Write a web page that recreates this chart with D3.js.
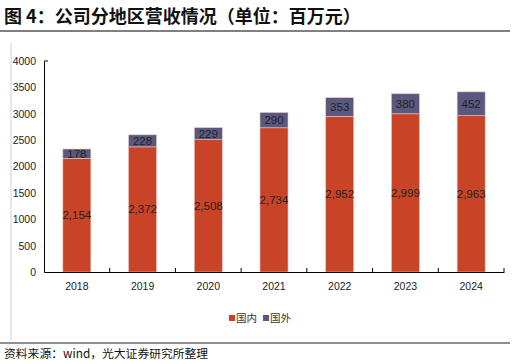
<!DOCTYPE html>
<html>
<head>
<meta charset="utf-8">
<script src="https://cdn.jsdelivr.net/npm/d3@7"></script>
<style>
  body { margin: 0; background: #fff; }
  svg text { font-family: "Liberation Sans", Arial, "Noto Sans CJK SC", sans-serif; }
</style>
</head>
<body>
<div id="chart"></div>
<script>
// data
var years = ["2018", "2019", "2020", "2021", "2022", "2023", "2024"];
var domestic = [2154, 2372, 2508, 2734, 2952, 2999, 2963];
var overseas = [178, 228, 229, 290, 353, 380, 452];
var yTicks = [0, 500, 1000, 1500, 2000, 2500, 3000, 3500, 4000];
var keys = ["国内", "国外"];

var W = 516, H = 364;
var margin = {top: 61, left: 44, right: 12, bottom: 92};

var svg = d3.select("#chart").append("svg")
    .attr("width", W)
    .attr("height", H);

// title + rules
svg.append("text")
    .attr("x", 4).attr("y", 23)
    .attr("font-size", 18).attr("font-weight", "bold")
    .attr("fill", "#111")
    .style("font-family", "'Noto Sans CJK SC', sans-serif")
    .text("图 4：公司分地区营收情况（单位：百万元）");
svg.append("line").attr("x1", 0).attr("x2", 510).attr("y1", 31).attr("y2", 31)
    .attr("stroke", "#000").attr("stroke-width", 1);
svg.append("line").attr("x1", 11).attr("x2", 11).attr("y1", 43).attr("y2", 340)
    .attr("stroke", "#d0d0d0").attr("stroke-width", 1);
svg.append("line").attr("x1", 0).attr("x2", 510).attr("y1", 343).attr("y2", 343)
    .attr("stroke", "#222").attr("stroke-width", 1.2);
svg.append("text")
    .attr("x", 4).attr("y", 358)
    .attr("font-size", 11.8).attr("fill", "#111")
    .style("font-family", "'Noto Sans CJK SC', sans-serif")
    .text("资料来源：wind，光大证券研究所整理");

var rows = years.map(function (y, i) {
    return {year: y, "国内": domestic[i], "国外": overseas[i]};
});
var stacked = d3.stack().keys(keys)(rows);

var x = d3.scaleBand()
    .domain(years)
    .range([margin.left, W - margin.right])
    .paddingInner(0.574)
    .paddingOuter(0.287);

var y = d3.scaleLinear()
    .domain([0, 4000])
    .range([H - margin.bottom, margin.top]);

var color = d3.scaleOrdinal()
    .domain(keys)
    .range(["#c94427", "#5a587e"]);

var g = svg.append("g");

g.selectAll(".series")
    .data(stacked)
    .enter().append("g")
    .attr("fill", function (d) { return color(d.key); })
    .selectAll("rect")
    .data(function (d) { return d; })
    .enter().append("rect")
    .attr("x", function (d) { return x(d.data.year); })
    .attr("width", x.bandwidth())
    .attr("y", function (d) { return y(d[1]); })
    .attr("height", function (d) { return y(d[0]) - y(d[1]); })
    .attr("stroke", "#e8c8c0")
    .attr("stroke-width", 0.6);

// value labels
var fmt = d3.format(",");
stacked.forEach(function (s) {
    g.selectAll(null)
        .data(s)
        .enter().append("text")
        .attr("x", function (d) { return x(d.data.year) + x.bandwidth() / 2; })
        .attr("y", function (d) { return (y(d[0]) + y(d[1])) / 2 + 4; })
        .attr("text-anchor", "middle")
        .attr("font-size", 11.5)
        .attr("fill", "#222")
        .text(function (d) { return fmt(d[1] - d[0]); });
});

// y axis
var yAxis = svg.append("g")
    .attr("transform", "translate(" + margin.left + ",0)")
    .call(d3.axisLeft(y).tickValues(yTicks).tickFormat(d3.format("d"))
        .tickSize(0).tickSizeOuter(0).tickPadding(8));
yAxis.select(".domain").attr("stroke", "#000");
yAxis.selectAll("text").attr("font-size", 10.5).attr("fill", "#222");
svg.append("line")
    .attr("x1", margin.left).attr("x2", margin.left + 4)
    .attr("y1", y(4000)).attr("y2", y(4000))
    .attr("stroke", "#000");

// x axis
var xAxis = svg.append("g")
    .attr("transform", "translate(0," + y(0) + ")")
    .call(d3.axisBottom(x).tickSize(0).tickPadding(11));
xAxis.select(".domain").attr("stroke", "#000");
xAxis.selectAll("text").attr("font-size", 10.5).attr("fill", "#222");
// ticks between categories
var step = x.step();
xAxis.selectAll(".sep")
    .data(years)
    .enter().append("line")
    .attr("x1", function (d) { return x(d) + x.bandwidth() + (step - x.bandwidth()) / 2; })
    .attr("x2", function (d) { return x(d) + x.bandwidth() + (step - x.bandwidth()) / 2; })
    .attr("y1", 0).attr("y2", -4)
    .attr("stroke", "#000");

// legend
var legend = svg.append("g").attr("transform", "translate(229,320)");
var li = legend.selectAll("g")
    .data(keys)
    .enter().append("g")
    .attr("transform", function (d, i) { return "translate(" + (i * 34) + ",0)"; });
li.append("rect")
    .attr("x", 0).attr("y", -5).attr("width", 6).attr("height", 6)
    .attr("fill", function (d) { return color(d); });
li.append("text")
    .attr("x", 7).attr("y", 2)
    .attr("font-size", 10.5).attr("fill", "#333")
    .style("font-family", "'Noto Sans CJK SC', sans-serif")
    .text(function (d) { return d; });
</script>
</body>
</html>
